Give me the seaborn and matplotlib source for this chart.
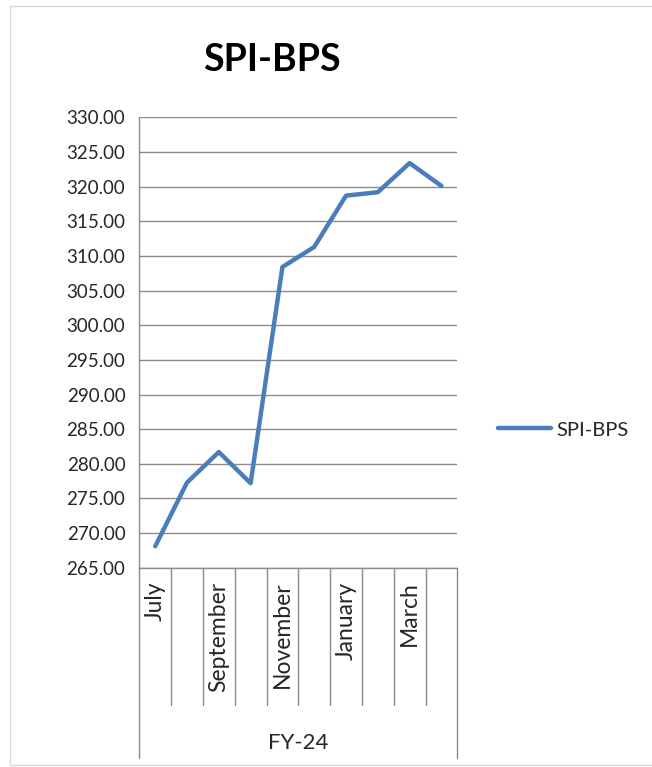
import matplotlib
matplotlib.use("Agg")
import matplotlib.pyplot as plt
import matplotlib.patches as mpatches
import matplotlib.transforms as mtransforms
import numpy as np
import pandas as pd
import seaborn as sns

# data
months = ["July", "August", "September", "October", "November",
          "December", "January", "February", "March", "April"]
spi_bps = [268.1, 277.3, 281.7, 277.2, 308.4, 311.3, 318.7, 319.2, 323.4, 320.1]
y_ticks = [265, 270, 275, 280, 285, 290, 295, 300, 305, 310, 315, 320, 325, 330]
group_label = "FY-24"
series_name = "SPI-BPS"

sns.set_style("white")
plt.rcParams['font.family'] = ['Lato', 'DejaVu Sans']

df = pd.DataFrame({"pos": np.arange(len(months)), "value": spi_bps,
                   "series": series_name})

fig = plt.figure(figsize=(6.52, 7.67), dpi=100)
ax = fig.add_axes([0.2137, 0.2598, 0.4877, 0.5872])

sns.lineplot(data=df, x="pos", y="value", hue="series",
             palette=["#4a7ebb"], linewidth=3.2, ax=ax)

ax.set_xlim(-0.5, len(months) - 0.5)
ax.set_ylim(y_ticks[0], y_ticks[-1])
ax.set_yticks(y_ticks)
ax.set_yticklabels([f"{v:.2f}" for v in y_ticks], fontsize=13.5, color="#262626")
ax.yaxis.grid(True, color="#8c8c8c", linewidth=1.0)
ax.tick_params(axis="y", length=7, color="#8c8c8c", pad=3)

# every other month labelled, like the original
ax.set_xticks(np.arange(len(months)))
ax.set_xticklabels([m if i % 2 == 0 else "" for i, m in enumerate(months)],
                   rotation=90, fontsize=16.5, color="#262626", va="top")
ax.tick_params(axis="x", length=0, pad=10)
ax.set_xlabel("")
ax.set_ylabel("")

for side in ["top", "right"]:
    ax.spines[side].set_visible(False)
for side in ["left", "bottom"]:
    ax.spines[side].set_color("#8c8c8c")
    ax.spines[side].set_linewidth(1.0)

# category divider lines below the axis
trans = mtransforms.blended_transform_factory(ax.transData, ax.transAxes)
for k in range(len(months) + 1):
    xb = k - 0.5
    low = -0.4225 if k in (0, len(months)) else -0.305
    ax.plot([xb, xb], [0, low], transform=trans, color="#8c8c8c",
            linewidth=1.0, clip_on=False)

ax.text(0.5, -0.39, group_label, transform=ax.transAxes, ha="center",
        va="center", fontsize=16, color="#262626")

fig.text(0.417, 0.922, series_name, ha="center", va="center",
         fontsize=27, fontweight="bold", color="#000000")

leg = ax.legend(loc="center left", bbox_to_anchor=(0.7638, 0.4394),
                bbox_transform=fig.transFigure, frameon=False,
                borderpad=0, borderaxespad=0,
                handlelength=2.64, handletextpad=0.25, fontsize=14.5)
for t in leg.get_texts():
    t.set_color("#262626")

# light outer chart border
fig.patches.append(mpatches.Rectangle((0.0153, 0.003), 1.2, 0.989,
                                      transform=fig.transFigure, fill=False,
                                      edgecolor="#d9d9d9", linewidth=1.0))

fig.savefig("out.png", dpi=100)
